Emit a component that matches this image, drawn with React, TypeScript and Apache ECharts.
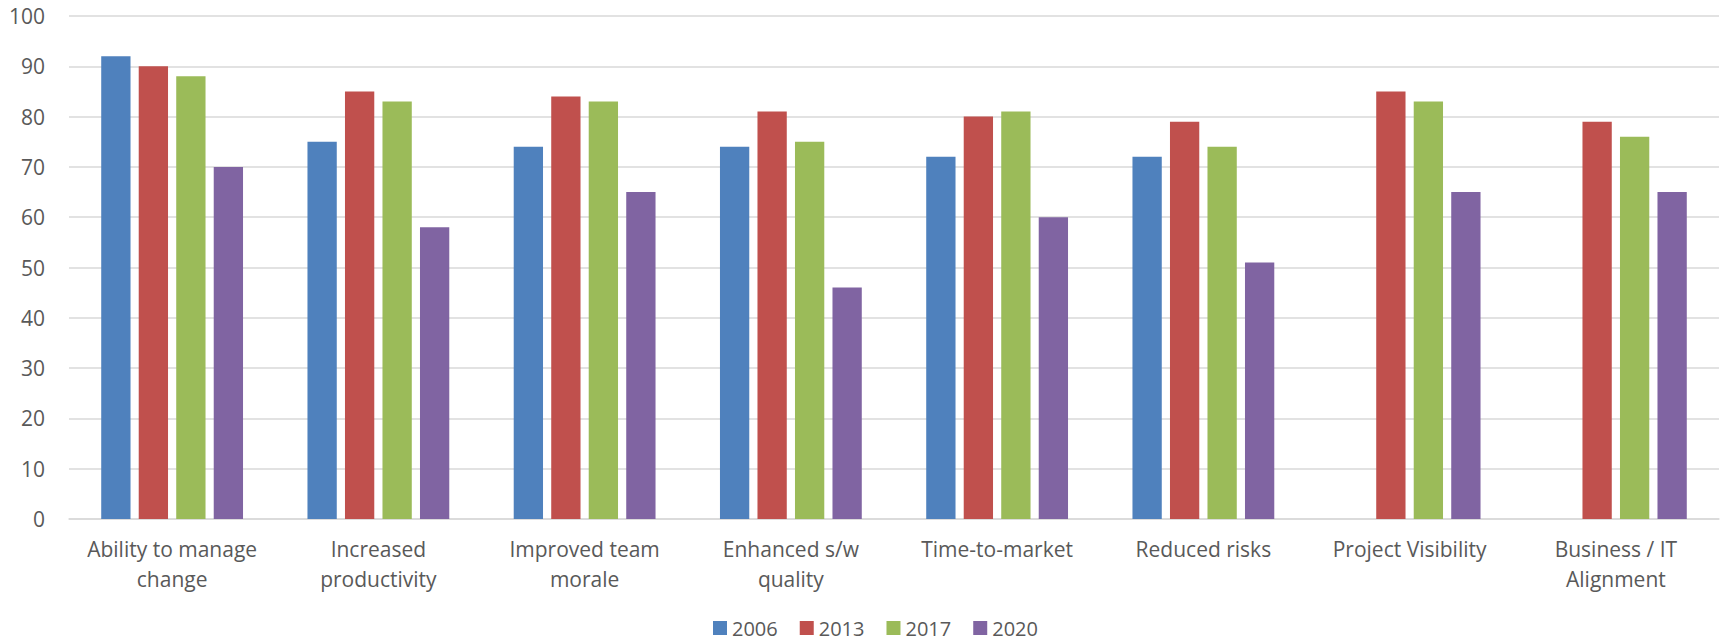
import React, { useEffect, useRef } from "react";
import * as echarts from "echarts";

const categories = [
  "Ability to manage\nchange",
  "Increased\nproductivity",
  "Improved team\nmorale",
  "Enhanced s/w\nquality",
  "Time-to-market",
  "Reduced risks",
  "Project Visibility",
  "Business / IT\nAlignment",
];

const years = ["2006", "2013", "2017", "2020"];

const values2006 = [92, 75, 74, 74, 72, 72, null, null];
const values2013 = [90, 85, 84, 81, 80, 79, 85, 79];
const values2017 = [88, 83, 83, 75, 81, 74, 83, 76];
const values2020 = [70, 58, 65, 46, 60, 51, 65, 65];

const colors = ["#4F81BD", "#C0504D", "#9BBB59", "#8064A2"];

const yTicks = { min: 0, max: 100, interval: 10 };

export default function App() {
  const ref = useRef<HTMLDivElement>(null);

  useEffect(() => {
    if (!ref.current) return;
    const chart = echarts.init(ref.current, undefined, { renderer: "svg" });
    const font = "Open Sans";
    const seriesData = [values2006, values2013, values2017, values2020];
    chart.setOption({
      animation: false,
      backgroundColor: "#ffffff",
      color: colors,
      grid: { left: 69, right: 2, top: 16, bottom: 125, containLabel: false },
      legend: {
        data: years,
        top: 618,
        left: 713,
        padding: 0,
        itemWidth: 14,
        itemHeight: 14,
        itemGap: 22,
        icon: "rect",
        textStyle: { color: "#595959", fontSize: 20, fontFamily: font },
      },
      xAxis: {
        type: "category",
        data: categories,
        axisLine: { show: true, lineStyle: { color: "#d9d9d9", width: 1.5 } },
        axisTick: { show: false },
        axisLabel: {
          color: "#595959",
          fontSize: 21,
          fontFamily: font,
          lineHeight: 30,
          margin: 15,
          interval: 0,
        },
      },
      yAxis: {
        type: "value",
        min: yTicks.min,
        max: yTicks.max,
        interval: yTicks.interval,
        axisLine: { show: false },
        axisTick: { show: false },
        splitLine: { lineStyle: { color: "#d9d9d9", width: 1.5 } },
        axisLabel: { color: "#595959", fontSize: 21, fontFamily: font, margin: 24 },
      },
      series: years.map((y, i) => ({
        name: y,
        type: "bar",
        data: seriesData[i],
        barWidth: 29.3,
        barGap: "28%",
        itemStyle: { color: colors[i] },
      })),
    });
    return () => chart.dispose();
  }, []);

  return (
    <div
      ref={ref}
      style={{ position: "fixed", left: 0, top: 0, width: 1721, height: 644 }}
    />
  );
}
